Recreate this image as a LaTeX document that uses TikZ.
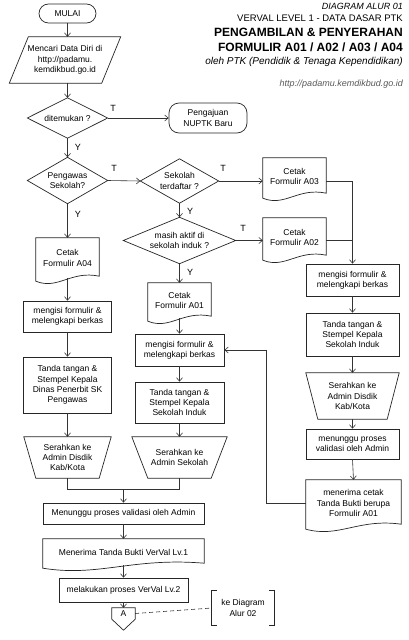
\documentclass[tikz,border=0pt]{standalone}
\usepackage{fontspec}
\setmainfont{Liberation Sans}
\usetikzlibrary{arrows.meta,calc}
\newcommand\DrawDiam[1]{\draw[outl] (#1.north) -- (#1.east) -- (#1.south) -- (#1.west) -- cycle;}
\newcommand\DrawDoc[2]{\draw[outl] ($(#1.south west)+(0,3)$) -- (#1.north west) -- (#1.north east) -- ($(#1.south east)+(0,-2)$) .. controls ($(#1.south east)+(-0.45*#2,-8)$) and ($(#1.south west)+(0.35*#2,12)$) .. ($(#1.south west)+(0,3)$) -- cycle;}
\newcommand\DrawTrap[2]{\draw[outl] (#1.north west) -- (#1.north east) -- ($(#1.south east)+(-#2,0)$) -- ($(#1.south west)+(#2,0)$) -- cycle;}
\newcommand\DrawPara[2]{\draw[outl] ($(#1.north west)+(#2,0)$) -- (#1.north east) -- ($(#1.south east)+(-#2,0)$) -- (#1.south west) -- cycle;}
\begin{document}
\begin{tikzpicture}[x=1pt,y=-1pt,
  every node/.style={inner sep=0pt, align=center, font=\fontsize{8.5}{10.3}\selectfont},
  outl/.style={draw=black!85, line width=0.7pt},
  blk/.style={rectangle, draw=black!85, line width=0.7pt},
  shp/.style={rectangle},
  ln/.style={draw=black!80, line width=0.6pt},
  arr/.style={ln, -{Straight Barb[length=3.5pt,width=6pt]}},
  lbl/.style={font=\fontsize{9}{10}\selectfont},
  ttl/.style={anchor=base east}]
\fill[white] (0,0) rectangle (408,640);
\useasboundingbox (0,0) rectangle (408,640);

% title
\node[ttl, font=\fontsize{9}{10}\selectfont\itshape] (h1) at (403,9.5) {DIAGRAM ALUR 01};
\node[ttl, font=\fontsize{9.5}{11}\selectfont] (h2) at (403,21.5) {VERVAL LEVEL 1 - DATA DASAR PTK};
\node[ttl, font=\fontsize{12}{14}\selectfont\bfseries] (h3) at (403,36.5) {PENGAMBILAN \& PENYERAHAN};
\node[ttl, font=\fontsize{12}{14}\selectfont\bfseries] (h4) at (403,51.5) {FORMULIR A01 / A02 / A03 / A04};
\node[ttl, font=\fontsize{10}{12}\selectfont\itshape] (h5) at (403,64) {oleh PTK (Pendidik \& Tenaga Kependidikan)};
\node[ttl, font=\fontsize{9}{10}\selectfont\itshape, text=black!65] (h6) at (403,86.5) {http://padamu.kemdikbud.go.id};

% top
\node[blk, rounded corners=9.5pt, minimum width=57pt, minimum height=19pt] (mulai) at (67.5,13.5) {MULAI};
\node[shp, minimum width=111pt, minimum height=46pt] (cari) at (65,60) {Mencari Data Diri di\\http://padamu.\\kemdikbud.go.id};
\DrawPara{cari}{19}
\node[shp, minimum width=80pt, minimum height=40pt] (temu) at (67.5,118) {ditemukan ?};
\DrawDiam{temu}
\node[blk, rounded corners=10pt, minimum width=78pt, minimum height=30pt] (nuptk) at (208,118) {Pengajuan\\NUPTK Baru};
\node[shp, minimum width=80pt, minimum height=46pt] (pengawas) at (67.5,180.5) {Pengawas\\Sekolah?};
\DrawDiam{pengawas}
\node[shp, minimum width=78pt, minimum height=44pt] (sekdaf) at (179.5,181) {Sekolah\\terdaftar ?};
\DrawDiam{sekdaf}
\node[shp, minimum width=112pt, minimum height=46pt] (aktif) at (179.5,240.5) {masih aktif di\\sekolah induk ?};
\DrawDiam{aktif}
\node[shp, minimum width=63pt, minimum height=37pt] (a03) at (294.5,176.5) {Cetak\\Formulir A03};
\DrawDoc{a03}{63}
\node[shp, minimum width=63pt, minimum height=39pt] (a02) at (294.5,237.5) {Cetak\\Formulir A02};
\DrawDoc{a02}{63}

% right column
\node[blk, minimum width=93pt, minimum height=32pt] (rmeng) at (352.5,280) {mengisi formulir \&\\melengkapi berkas};
\node[blk, minimum width=93pt, minimum height=43pt] (rtt) at (352.5,334.5) {Tanda tangan \&\\Stempel Kepala\\Sekolah Induk};
\node[shp, minimum width=93pt, minimum height=46pt] (rser) at (352.5,396) {Serahkan ke\\Admin Disdik\\Kab/Kota};
\DrawTrap{rser}{12}
\node[blk, minimum width=93pt, minimum height=30pt] (rtunggu) at (352.5,444) {menunggu proses\\validasi oleh Admin};
\node[shp, minimum width=95pt, minimum height=46pt] (rterima) at (353.5,503) {menerima cetak\\Tanda Bukti berupa\\Formulir A01};
\DrawDoc{rterima}{95}

% left column
\node[shp, minimum width=63pt, minimum height=40pt] (a04) at (67.5,258) {Cetak\\Formulir A04};
\DrawDoc{a04}{63}
\node[blk, minimum width=88pt, minimum height=31pt] (lmeng) at (67.5,316.5) {mengisi formulir \&\\melengkapi berkas};
\node[blk, minimum width=88pt, minimum height=56pt] (ltt) at (67.5,385) {Tanda tangan \&\\Stempel Kepala\\Dinas Penerbit SK\\Pengawas};
\node[shp, minimum width=87pt, minimum height=41pt] (lser) at (67.5,457.5) {Serahkan ke\\Admin Disdik\\Kab/Kota};
\DrawTrap{lser}{12}

% middle column
\node[shp, minimum width=63pt, minimum height=35pt] (a01) at (179.5,300.5) {Cetak\\Formulir A01};
\DrawDoc{a01}{63}
\node[blk, minimum width=89pt, minimum height=32pt] (mmeng) at (179.5,350) {mengisi formulir \&\\melengkapi berkas};
\node[blk, minimum width=89pt, minimum height=41pt] (mtt) at (179.5,402.5) {Tanda tangan \&\\Stempel Kepala\\Sekolah Induk};
\node[shp, minimum width=95pt, minimum height=41pt] (mser) at (179.5,457.5) {Serahkan ke\\Admin Sekolah};
\DrawTrap{mser}{16}

% bottom
\coordinate (j) at (123.5,489.5);
\node[blk, minimum width=161pt, minimum height=21pt] (btunggu) at (123.5,513.5) {Menunggu proses validasi oleh Admin};
\node[shp, minimum width=161pt, minimum height=26pt] (bterima) at (123.5,552) {Menerima Tanda Bukti VerVal Lv.1};
\DrawDoc{bterima}{161}
\node[blk, minimum width=129pt, minimum height=24pt] (bproses) at (123.5,590) {melakukan proses VerVal Lv.2};
\node[shp, minimum width=23pt, minimum height=11pt] (conA) at (123.5,613.5) {A};
\draw[outl] (conA.north west) -- (conA.north east) -- (conA.south east) -- ($(conA.south)+(0,11)$) -- (conA.south west) -- cycle;
\node[shp, minimum width=62pt, minimum height=34pt] (note) at (243,608) {ke Diagram\\Alur 02};
\draw[outl] ($(note.north west)+(5,0)$) -- (note.north west) -- (note.south west) -- ($(note.south west)+(5,0)$);
\draw[outl] ($(note.north east)+(-5,0)$) -- (note.north east) -- (note.south east) -- ($(note.south east)+(-5,0)$);
\draw[ln, dash pattern=on 4pt off 3pt] (conA.east) -- (note.west);

% connectors
\draw[arr] (mulai.south) -- (mulai.south |- cari.north);
\draw[arr] (mulai.south |- cari.south) -- (temu.north);
\draw[arr] (temu.east) -- (nuptk.west);
\draw[arr] (temu.south) -- (pengawas.north);
\draw[arr] (pengawas.east) -- (sekdaf.west);
\draw[arr] (sekdaf.east) -- (sekdaf.east -| a03.west);
\draw[arr] (sekdaf.south) -- (aktif.north);
\draw[arr] (aktif.east) -- (aktif.east -| a02.west);
\draw[arr] (pengawas.south) -- (a04.north);
\draw[arr] (aktif.south) -- (a01.north);
\draw[arr] (sekdaf.east -| a03.east) -| (rmeng.north);
\draw[ln] (aktif.east -| a02.east) -- (aktif.east -| rmeng.north);
\draw[arr] (rmeng.south) -- (rtt.north);
\draw[arr] (rtt.south) -- (rser.north);
\draw[arr] (rser.south) -- (rtunggu.north);
\draw[arr] (rtunggu.south) -- (rterima.north);
\draw[arr] (rterima.west) -- ++(-40,0) |- (mmeng.east);
\draw[arr] (a04.south) -- (lmeng.north);
\draw[arr] (lmeng.south) -- (ltt.north);
\draw[arr] (ltt.south) -- (lser.north);
\draw[arr] (a01.south) -- (mmeng.north);
\draw[arr] (mmeng.south) -- (mtt.north);
\draw[arr] (mtt.south) -- (mser.north);
\draw[ln] (lser.south) |- (j) -| (mser.south);
\draw[arr] (j) -- (btunggu.north);
\draw[arr] (btunggu.south) -- (bterima.north);
\draw[arr] (bterima.south) -- (bproses.north);
\draw[arr] (bproses.south) -- (conA.north);

% labels
\node[lbl] (tT1) at (113,108) {T};
\node[lbl] (tY1) at (78,147) {Y};
\node[lbl] (tT2) at (114,168) {T};
\node[lbl] (tY2) at (78,214) {Y};
\node[lbl] (tT3) at (223,168) {T};
\node[lbl] (tY3) at (190,211) {Y};
\node[lbl] (tT4) at (243,228) {T};
\node[lbl] (tY4) at (190,272) {Y};
\end{tikzpicture}
\end{document}
